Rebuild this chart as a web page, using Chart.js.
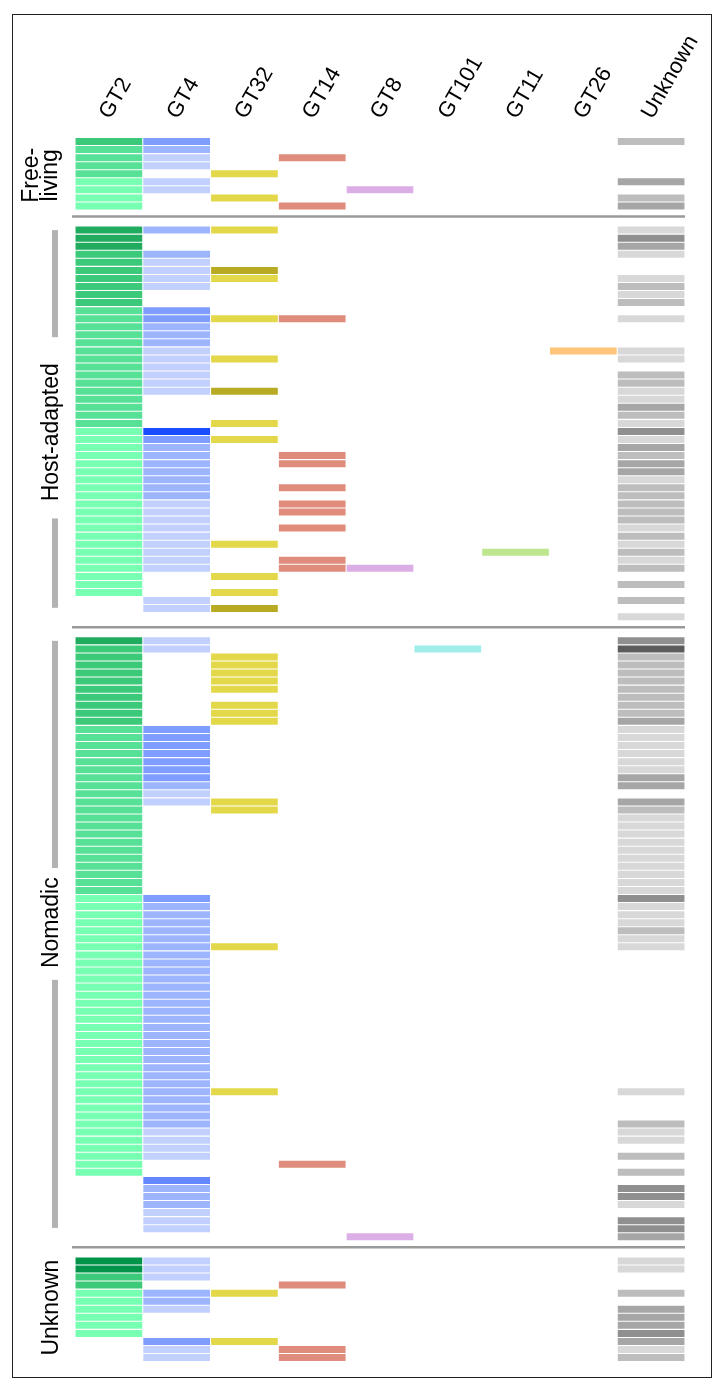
<!DOCTYPE html>
<html>
<head>
<meta charset="utf-8">
<script src="https://cdn.jsdelivr.net/npm/chart.js@4.4.1/dist/chart.umd.min.js"></script>
<style>
    html, body { margin: 0; padding: 0; background: #fff; }
    #wrap { position: relative; width: 726px; height: 1393px; }
</style>
</head>
<body>
<div id="wrap"><canvas id="gtChart"></canvas></div>
<script>
// column headers
const columns = ['GT2', 'GT4', 'GT32', 'GT14', 'GT8', 'GT101', 'GT11', 'GT26', 'Unknown'];

// shades per column, darkest first (digit in the row strings = index here)
const gt2Shades = ['#00934a', '#20ab5f', '#3cc979', '#56e196', '#77ffb2'];
const gt4Shades = ['#1a4dff', '#6487ff', '#7f9cff', '#9db4ff', '#c1d0ff'];
const gt32Shades = ['#b8ab23', '#e3d84a'];
const gt14Shades = ['#e08c7c'];
const gt8Shades = ['#dcaee6'];
const gt101Shades = ['#a0eeea'];
const gt11Shades = ['#bde68e'];
const gt26Shades = ['#ffc57a'];
const unknownShades = ['#5c5c5c', '#8f8f8f', '#a6a6a6', '#bdbdbd', '#d8d8d8'];

// one string per isolate, one char per column ('.' = absent)
const freeLivingRows = [
    '22......3', '33.......', '34.0.....', '34.......', '3.1......',
    '44......2', '44..0....', '4.1.....3', '4..0....2'
];

const hostAdaptedRows = [
    '131.....4', '1.......1', '1.......2', '23......4', '24.......',
    '240......', '241.....4', '24......3', '2.......4', '2.......3',
    '32.......', '3210....4', '33.......', '33.......', '33.......',
    '34.....04', '341.....4', '34.......', '34......3', '34......3',
    '340.....4', '3.......4', '3.......2', '3.......3', '3.1.....4',
    '40......1', '421.....4', '43......2', '43.0....3', '43.0....2',
    '43......2', '43......4', '43.0....3', '43......3', '44.0....3',
    '44.0....3', '44......3', '44.0....4', '44......3', '441.....4',
    '44....0.3', '44.0....4', '44.00...3', '4.1......', '4.......3',
    '4.1......', '.4......3', '.40......', '........4'
];

const nomadicRows = [
    '14......1', '24...0..0', '2.1.....3', '2.1.....3', '2.1.....3',
    '2.1.....3', '2.1.....3', '2.......3', '2.1.....3', '2.1.....3',
    '2.1.....2', '32......4', '32......4', '32......4', '32......4',
    '32......4', '32......4', '32......2', '33......2', '34.......',
    '341.....2', '3.1.....3', '3.......4', '3.......4', '3.......4',
    '3.......4', '3.......4', '3.......4', '3.......4', '3.......4',
    '3.......4', '3.......4', '42......1', '43......4', '43......4',
    '43......4', '43......3', '43......4', '431.....4', '43.......',
    '43.......', '43.......', '43.......', '43.......', '43.......',
    '43.......', '43.......', '43.......', '43.......', '43.......',
    '43.......', '43.......', '43.......', '43.......', '43.......',
    '43.......', '431.....4', '43.......', '43.......', '43.......',
    '43......3', '44......4', '44......4', '44.......', '44......3',
    '4..0.....', '4.......3', '.1.......', '.3......1', '.3......1',
    '.3......4', '.4.......', '.4......1', '.4......1', '....0...2'
];

const unknownRows = [
    '04......4', '04......4', '24.......', '2..0.....', '431.....3',
    '43.......', '44......2', '4.......2', '4.......2', '4.......1',
    '.21.....2', '.4.0....4', '.4.0....3'
];

const shades = [gt2Shades, gt4Shades, gt32Shades, gt14Shades, gt8Shades,
    gt101Shades, gt11Shades, gt26Shades, unknownShades];

// group side labels: centre and grey bracket pieces in row units
const groupLabels = [
    { lines: ['Free-', 'living'], center: 4.2, bars: [] },
    { lines: ['Host-adapted'], center: 36.1, bars: [[11.0, 24.3], [46.8, 57.9]] },
    { lines: ['Nomadic'], center: 97.0, bars: [[62.0, 90.2], [104.1, 134.9]] },
    { lines: ['Unknown'], center: 144.8, bars: [] }
];

const groupRows = [freeLivingRows, hostAdaptedRows, nomadicRows, unknownRows];
const GAP = 2;
const EMPTY = '.........';

const allRows = [];
const separatorRows = [];
groupRows.forEach((rows, i) => {
    if (i > 0) {
        separatorRows.push(allRows.length + 0.3);
        for (let k = 0; k < GAP; k++) allRows.push(EMPTY);
    }
    allRows.push(...rows);
});

const rowIds = allRows.map((r, i) => String(i));

const datasets = columns.map((name, c) => ({
    label: name,
    data: allRows.map(r => r[c] === '.' ? null : [c + 0.008, c + 0.992]),
    backgroundColor: allRows.map(r => r[c] === '.' ? 'rgba(0,0,0,0)' : shades[c][+r[c]]),
    borderWidth: 0,
    grouped: false,
    barPercentage: 0.87,
    categoryPercentage: 1
}));

const decorPlugin = {
    id: 'decor',
    afterDraw(chart) {
        const { ctx, chartArea, scales: { y } } = chart;
        ctx.save();

        ctx.strokeStyle = '#9a9a9a';
        ctx.lineWidth = 2.5;
        separatorRows.forEach(r => {
            const py = y.getPixelForValue(r);
            ctx.beginPath();
            ctx.moveTo(chartArea.left - 3, py);
            ctx.lineTo(chartArea.right, py);
            ctx.stroke();
        });

        ctx.fillStyle = '#b3b3b3';
        groupLabels.forEach(g => {
            g.bars.forEach(([a, b]) => {
                const y0 = y.getPixelForValue(a);
                const y1 = y.getPixelForValue(b);
                ctx.fillRect(chartArea.left - 23, y0, 6, y1 - y0);
            });
        });

        ctx.fillStyle = '#000';
        ctx.font = '23px "Liberation Sans", Arial, sans-serif';
        ctx.textAlign = 'center';
        ctx.textBaseline = 'alphabetic';
        groupLabels.forEach(g => {
            const cy = y.getPixelForValue(g.center);
            g.lines.forEach((t, i) => {
                const bx = g.lines.length === 1 ? 58 : [38, 57][i];
                ctx.save();
                ctx.translate(bx, cy);
                ctx.rotate(-Math.PI / 2);
                ctx.fillText(t, 0, 0);
                ctx.restore();
            });
        });

        ctx.strokeStyle = '#222';
        ctx.lineWidth = 1;
        ctx.strokeRect(12.5, 14.5, 699, 1363);
        ctx.restore();
    }
};

const ctx = document.getElementById('gtChart').getContext('2d');
new Chart(ctx, {
    type: 'bar',
    data: { labels: rowIds, datasets },
    options: {
        indexAxis: 'y',
        responsive: true,
        maintainAspectRatio: false,
        animation: false,
        events: [],
        layout: { padding: { left: 75, right: 41, top: 0, bottom: 31.4 } },
        plugins: {
            legend: { display: false },
            tooltip: { enabled: false }
        },
        scales: {
            x: { type: 'linear', min: 0, max: 9, display: false, stacked: false },
            y: { type: 'category', display: false, offset: true },
            x2: {
                type: 'category',
                labels: columns,
                position: 'top',
                offset: true,
                grid: { display: false, drawTicks: false },
                border: { display: false },
                ticks: {
                    autoSkip: false,
                    minRotation: 60,
                    maxRotation: 60,
                    padding: 14,
                    labelOffset: 19,
                    color: '#000',
                    font: { family: '"Liberation Sans", Arial, sans-serif', size: 22 }
                },
                afterFit(scale) { scale.height = 137.5; }
            }
        }
    },
    plugins: [decorPlugin]
});
</script>
</body>
</html>
